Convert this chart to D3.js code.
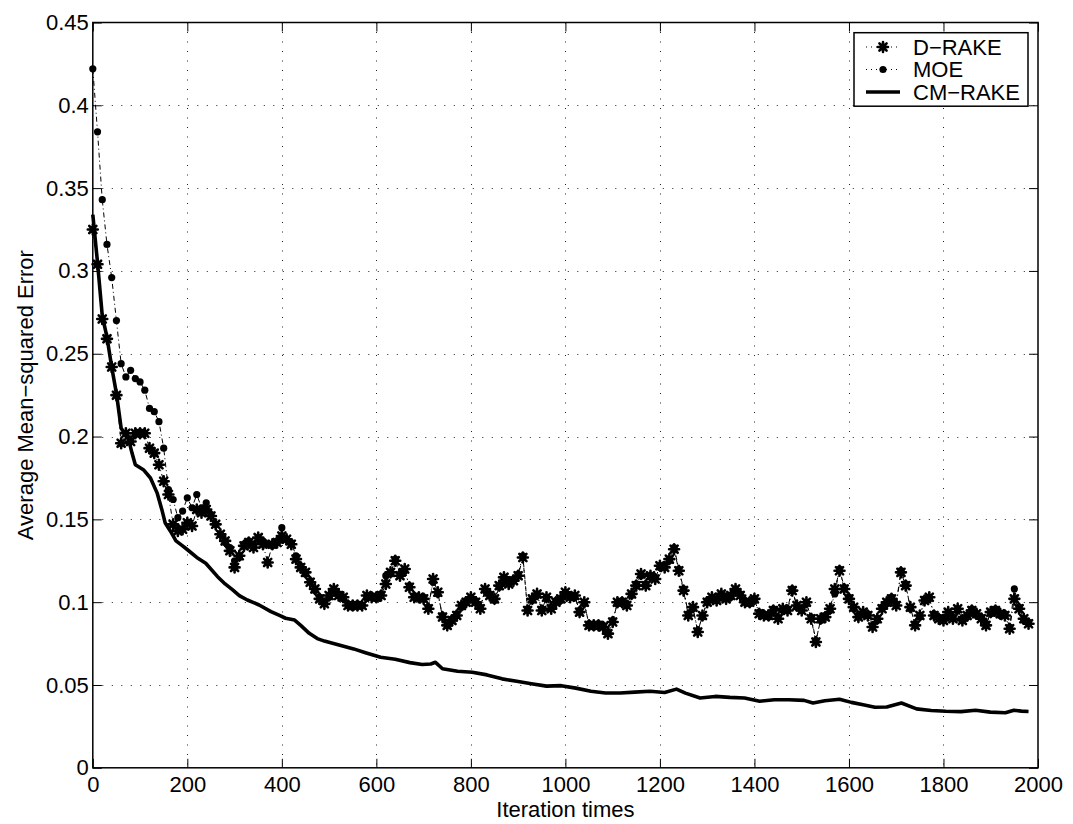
<!DOCTYPE html>
<html>
<head>
<meta charset="utf-8">
<script src="https://cdn.jsdelivr.net/npm/d3@7"></script>
<style>
  html, body { margin: 0; padding: 0; background: #fff; }
  svg { display: block; font-family: "Liberation Sans", Arial, Helvetica, sans-serif; }
</style>
</head>
<body>
<svg id="chart" width="1073" height="824"></svg>
<script>
// ---------------- DATA ----------------
const seriesNames = ["D\u2212RAKE", "MOE", "CM\u2212RAKE"];
const xTicks = [0, 200, 400, 600, 800, 1000, 1200, 1400, 1600, 1800, 2000];
const xTickLabels = ["0", "200", "400", "600", "800", "1000", "1200", "1400", "1600", "1800", "2000"];
const yTicks = [0, 0.05, 0.1, 0.15, 0.2, 0.25, 0.3, 0.35, 0.4, 0.45];
const yTickLabels = ["0", "0.05", "0.1", "0.15", "0.2", "0.25", "0.3", "0.35", "0.4", "0.45"];
const xLabel = "Iteration times";
const yLabel = "Average Mean\u2212squared Error";

// D-RAKE and MOE sampled every 10 iterations (0 .. 1980)
const iterations = d3.range(0, 1990, 10);
const dRake = [
  0.325,0.304,0.271,0.259,0.242,0.225,0.196,0.202,0.197,0.202,
  0.202,0.202,0.193,0.190,0.183,0.173,0.165,0.147,0.143,0.144,
  0.148,0.146,0.156,0.154,0.156,0.152,0.147,0.141,0.137,0.131,
  0.121,0.128,0.134,0.136,0.133,0.139,0.135,0.124,0.135,0.136,
  0.140,0.138,0.135,0.126,0.121,0.118,0.112,0.108,0.102,0.099,
  0.104,0.108,0.104,0.103,0.098,0.098,0.098,0.098,0.104,0.103,
  0.103,0.104,0.111,0.118,0.125,0.116,0.120,0.109,0.103,0.103,
  0.102,0.096,0.114,0.106,0.091,0.086,0.089,0.092,0.098,0.100,
  0.103,0.100,0.096,0.108,0.104,0.102,0.110,0.115,0.111,0.113,
  0.116,0.127,0.095,0.102,0.105,0.095,0.103,0.096,0.100,0.102,
  0.106,0.103,0.104,0.094,0.100,0.086,0.086,0.086,0.085,0.081,
  0.088,0.100,0.100,0.098,0.105,0.110,0.117,0.110,0.116,0.114,
  0.122,0.121,0.126,0.132,0.119,0.107,0.092,0.097,0.082,0.092,
  0.100,0.103,0.101,0.105,0.102,0.104,0.108,0.104,0.100,0.100,
  0.102,0.093,0.092,0.092,0.095,0.090,0.096,0.095,0.107,0.098,
  0.095,0.100,0.090,0.076,0.090,0.091,0.096,0.108,0.119,0.108,
  0.102,0.097,0.091,0.094,0.092,0.085,0.090,0.096,0.100,0.102,
  0.098,0.118,0.110,0.097,0.086,0.092,0.101,0.103,0.092,0.090,
  0.089,0.094,0.090,0.096,0.089,0.092,0.095,0.093,0.090,0.086,
  0.094,0.095,0.093,0.092,0.084,0.102,0.096,0.090,0.087
];
const moe = [
  0.422,0.384,0.343,0.316,0.296,0.270,0.244,0.236,0.240,0.235,
  0.233,0.228,0.217,0.215,0.209,0.193,0.168,0.162,0.151,0.155,
  0.163,0.157,0.165,0.157,0.160,0.153,0.147,0.141,0.136,0.133,
  0.125,0.127,0.135,0.137,0.135,0.138,0.137,0.135,0.134,0.137,
  0.145,0.138,0.136,0.128,0.122,0.117,0.113,0.107,0.103,0.100,
  0.103,0.107,0.105,0.102,0.099,0.097,0.099,0.098,0.103,0.104,
  0.102,0.105,0.116,0.117,0.126,0.117,0.119,0.110,0.104,0.102,
  0.103,0.097,0.112,0.105,0.092,0.087,0.090,0.093,0.097,0.101,
  0.102,0.101,0.097,0.107,0.105,0.101,0.109,0.114,0.112,0.114,
  0.117,0.128,0.096,0.101,0.104,0.096,0.102,0.097,0.101,0.101,
  0.105,0.104,0.103,0.095,0.099,0.087,0.085,0.087,0.086,0.082,
  0.089,0.099,0.101,0.099,0.104,0.111,0.116,0.111,0.115,0.115,
  0.121,0.122,0.125,0.133,0.120,0.108,0.093,0.096,0.083,0.091,
  0.101,0.102,0.102,0.104,0.103,0.103,0.107,0.105,0.101,0.099,
  0.101,0.094,0.093,0.091,0.096,0.091,0.095,0.096,0.108,0.097,
  0.096,0.099,0.091,0.077,0.089,0.092,0.095,0.105,0.120,0.109,
  0.103,0.096,0.092,0.093,0.093,0.086,0.089,0.097,0.099,0.103,
  0.099,0.119,0.111,0.096,0.087,0.091,0.102,0.102,0.093,0.091,
  0.090,0.093,0.091,0.095,0.090,0.091,0.096,0.092,0.091,0.087,
  0.093,0.096,0.092,0.093,0.085,0.108,0.097,0.089,0.088
];

// CM-RAKE (smooth solid curve), read at these iterations
const cmIter = [
  0,10,20,30,40,50,60,76,83,90,107,122,136,146,153,164,176,190,201,220,
  239,264,280,296,310,327,352,377,395,408,427,440,458,475,490,521,552,577,609,640,
  671,697,715,725,740,772,803,834,866,897,928,960,991,1022,1054,1085,1116,1147,1179,1210,
  1235,1254,1285,1317,1348,1379,1411,1442,1473,1505,1524,1549,1580,1605,1630,1655,1680,1711,1743,1774,
  1805,1837,1868,1899,1931,1949,1965,1980
];
const cmRake = [
  0.334,0.305,0.273,0.260,0.242,0.226,0.205,0.198,0.190,0.183,0.180,0.175,0.166,0.156,0.148,0.143,0.137,0.134,0.1315,0.127,
  0.1235,0.1154,0.111,0.1074,0.104,0.1013,0.0983,0.0943,0.092,0.0903,0.0892,0.086,0.0812,0.078,0.0765,0.0741,0.0718,0.0695,0.0667,0.0655,
  0.0635,0.0624,0.0627,0.0637,0.0598,0.0583,0.0577,0.0561,0.0537,0.0522,0.0508,0.0493,0.0496,0.0481,0.0462,0.0452,0.0452,0.0457,0.0462,0.0455,
  0.0475,0.0451,0.0421,0.0431,0.0425,0.0421,0.0402,0.0411,0.0411,0.0407,0.0391,0.0405,0.0414,0.0395,0.0381,0.0366,0.0367,0.0391,0.0356,0.0346,
  0.0341,0.0339,0.0347,0.0336,0.0332,0.0347,0.0342,0.0340
];

// ---------------- CHART ----------------
const svg = d3.select("#chart");
const L = 92.8, R = 1038, T = 22.5, B = 767.8;
const x = d3.scaleLinear().domain([0, 2000]).range([L, R]);
const y = d3.scaleLinear().domain([0, 0.45]).range([B, T]);
const FONT = 22;

svg.append("rect").attr("width", 1073).attr("height", 824).attr("fill", "#fff");

// grid
const grid = svg.append("g").attr("stroke", "#222").attr("stroke-width", 1).attr("stroke-dasharray", "1,8.5");
grid.selectAll("line.v").data(xTicks.slice(1, -1)).enter().append("line")
  .attr("x1", d => Math.round(x(d)) + 0.5).attr("x2", d => Math.round(x(d)) + 0.5)
  .attr("y1", T).attr("y2", B);
grid.selectAll("line.h").data(yTicks.slice(1, -1)).enter().append("line")
  .attr("y1", d => Math.round(y(d)) + 0.5).attr("y2", d => Math.round(y(d)) + 0.5)
  .attr("x1", L).attr("x2", R);

// series
const dPts = iterations.map((it, i) => [it, dRake[i]]);
const mPts = iterations.map((it, i) => [it, moe[i]]);
const cPts = cmIter.map((it, i) => [it, cmRake[i]]);
const line = d3.line().x(d => x(d[0])).y(d => y(d[1]));

const starPath = "M-5,0L5,0M0,-5L0,5M-3.6,-3.6L3.6,3.6M-3.6,3.6L3.6,-3.6";

function drawStar(g, cx, cy) {
  g.append("path").attr("transform", `translate(${cx},${cy})`)
    .attr("d", starPath).attr("stroke", "#000").attr("stroke-width", 2.6)
    .attr("stroke-linecap", "round").attr("fill", "none");
  g.append("circle").attr("cx", cx).attr("cy", cy).attr("r", 3.4).attr("fill", "#000");
}

// D-RAKE
svg.append("path").datum(dPts).attr("d", line)
  .attr("fill", "none").attr("stroke", "#000").attr("stroke-width", 1)
  .attr("stroke-dasharray", "5,3,1,3");
const dg = svg.append("g");
dPts.forEach(d => drawStar(dg, x(d[0]), y(d[1])));

// MOE
svg.append("path").datum(mPts).attr("d", line)
  .attr("fill", "none").attr("stroke", "#000").attr("stroke-width", 1)
  .attr("stroke-dasharray", "5,3,1,3");
svg.append("g").selectAll("circle").data(mPts).enter().append("circle")
  .attr("cx", d => x(d[0])).attr("cy", d => y(d[1])).attr("r", 3.6).attr("fill", "#000");

// CM-RAKE
svg.append("path").datum(cPts).attr("d", line)
  .attr("fill", "none").attr("stroke", "#000").attr("stroke-width", 3.6)
  .attr("stroke-linejoin", "round");

// axes
const fmtX = d => xTickLabels[xTicks.indexOf(d)];
const fmtY = d => yTickLabels[yTicks.indexOf(d)];
const ax = svg.append("g").attr("transform", `translate(0,${B})`)
  .call(d3.axisBottom(x).tickValues(xTicks).tickFormat(fmtX).tickSizeInner(-9).tickSizeOuter(0).tickPadding(9));
const ay = svg.append("g").attr("transform", `translate(${L},0)`)
  .call(d3.axisLeft(y).tickValues(yTicks).tickFormat(fmtY).tickSizeInner(-9).tickSizeOuter(0).tickPadding(4));
const at = svg.append("g").attr("transform", `translate(0,${T})`)
  .call(d3.axisTop(x).tickValues(xTicks).tickFormat("").tickSizeInner(-9).tickSizeOuter(0));
const ar = svg.append("g").attr("transform", `translate(${R},0)`)
  .call(d3.axisRight(y).tickValues(yTicks).tickFormat("").tickSizeInner(-9).tickSizeOuter(0));
[ax, ay, at, ar].forEach(g => {
  g.select(".domain").remove();
  g.selectAll("line").attr("stroke", "#000").attr("stroke-width", 1);
  g.selectAll("text").attr("font-size", FONT).attr("fill", "#000")
    .attr("font-family", "'Liberation Sans', Arial, Helvetica, sans-serif");
});

// frame
svg.append("rect").attr("x", L).attr("y", T).attr("width", R - L).attr("height", B - T)
  .attr("fill", "none").attr("stroke", "#000").attr("stroke-width", 1.5);

// axis labels
svg.append("text").attr("x", (L + R) / 2).attr("y", 817).attr("text-anchor", "middle")
  .attr("font-size", FONT).text(xLabel);
svg.append("text").attr("transform", `translate(33,${(T + B) / 2}) rotate(-90)`)
  .attr("text-anchor", "middle").attr("font-size", FONT).text(yLabel);

// legend
const lg = svg.append("g");
lg.append("rect").attr("x", 854).attr("y", 32.7).attr("width", 174).attr("height", 73.5)
  .attr("fill", "#fff").attr("stroke", "#000").attr("stroke-width", 1.5);
const rows = [47, 69.5, 92];
const sx1 = 866, sx2 = 900, sxm = 883;
// D-RAKE sample
lg.append("line").attr("x1", sx1).attr("x2", sx2).attr("y1", rows[0]).attr("y2", rows[0])
  .attr("stroke", "#000").attr("stroke-width", 1).attr("stroke-dasharray", "1,4");
drawStar(lg, sxm, rows[0]);
// MOE sample
lg.append("line").attr("x1", sx1).attr("x2", sx2).attr("y1", rows[1]).attr("y2", rows[1])
  .attr("stroke", "#000").attr("stroke-width", 1).attr("stroke-dasharray", "1,4");
lg.append("circle").attr("cx", sxm).attr("cy", rows[1]).attr("r", 3.6).attr("fill", "#000");
// CM-RAKE sample
lg.append("line").attr("x1", sx1).attr("x2", sx2).attr("y1", rows[2]).attr("y2", rows[2])
  .attr("stroke", "#000").attr("stroke-width", 3.6);
seriesNames.forEach((n, i) => {
  lg.append("text").attr("x", 913).attr("y", rows[i]).attr("dy", "0.36em")
    .attr("font-size", FONT).text(n);
});
</script>
</body>
</html>
